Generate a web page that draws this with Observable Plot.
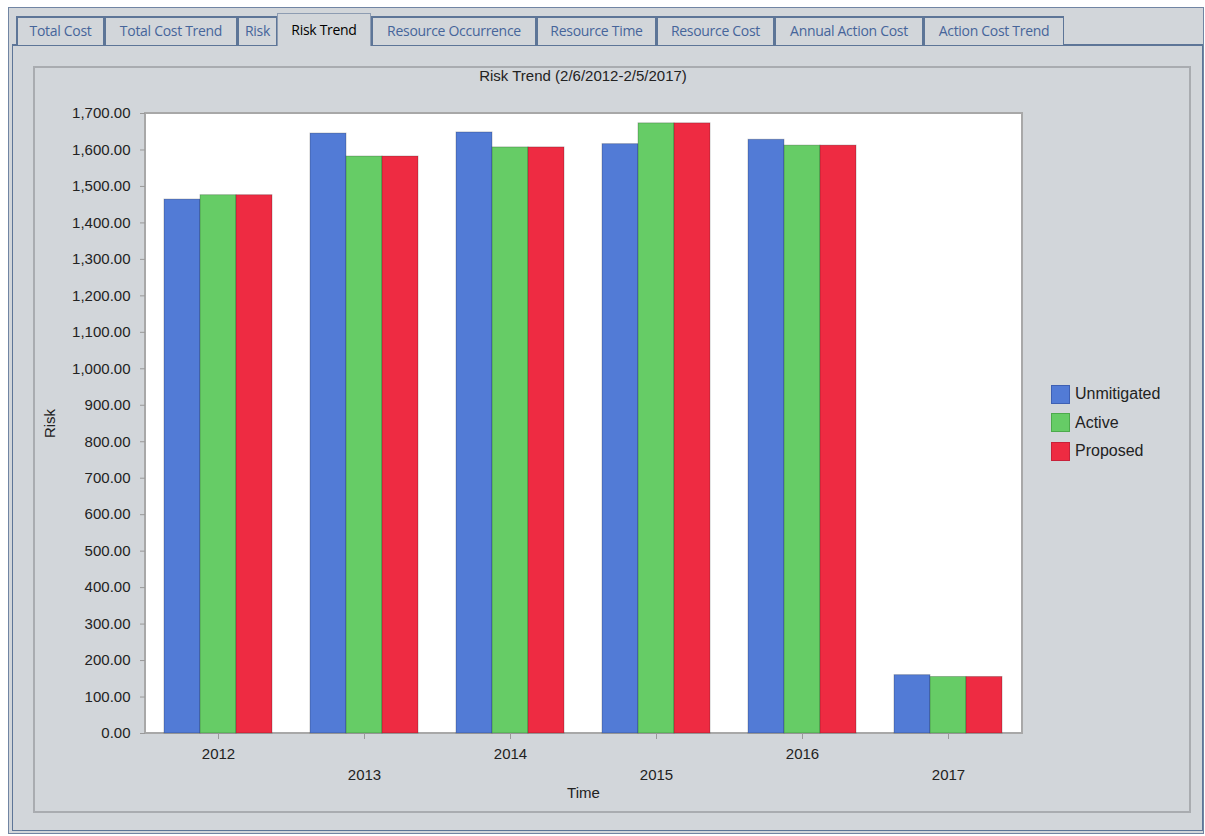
<!DOCTYPE html>
<html><head><meta charset="utf-8">
<script src="https://cdn.jsdelivr.net/npm/d3@7"></script>
<script src="https://cdn.jsdelivr.net/npm/@observablehq/plot@0.6"></script>
<style>
body{margin:0;width:1205px;height:836px;background:#fff;position:relative;overflow:hidden;font-family:"Liberation Sans",Arial,sans-serif;}
.abs{position:absolute;box-sizing:border-box;}
#outer{left:8px;top:7px;width:1196px;height:827px;background:#d2d6da;border:1px solid #7185a3;}
#content{left:12px;top:44px;width:1191px;height:787px;border:1px solid #5d7597;border-top:2px solid #5d7597;}
.tab{top:16px;height:29px;border:2px solid #5d7597;border-bottom:none;border-right-width:1px;color:#46659a;font-family:"Open Sans","Noto Sans",sans-serif;font-size:14px;line-height:26px;text-align:center;background:#d2d6da;white-space:nowrap;overflow:hidden;letter-spacing:-0.3px}
.tab.active{top:13px;height:33px;border:1px solid #8d9cb2;border-bottom:none;color:#000;line-height:32px;z-index:3}
#box{left:33px;top:66px;width:1158px;height:747px;border:2px solid #a9acb0;}
#area{left:144px;top:112px;width:879px;height:622px;background:#fff;border:2px solid #a8a8a8;}
#title{left:144px;top:67px;width:878px;text-align:center;font-size:15px;color:#222;}
#chart{left:33px;top:66px;}
#legend{left:1051px;top:380px;font-size:16px;color:#222;}
.row{display:flex;align-items:center;height:28.5px;}
.sw{width:19px;height:19px;box-sizing:border-box;border:1px solid;margin-right:5px;}
</style></head>
<body>
<div id="outer" class="abs"></div>
<div id="content" class="abs"></div>
<div id="tabs"></div>
<div id="box" class="abs"></div>
<div id="area" class="abs"></div>
<div id="title" class="abs"></div>
<div id="chart" class="abs"></div>
<div id="legend" class="abs"></div>
<script>
const tabLabels = ["Total Cost","Total Cost Trend","Risk","Risk Trend","Resource Occurrence","Resource Time","Resource Cost","Annual Action Cost","Action Cost Trend"];
const activeTab = "Risk Trend";
const chartTitle = "Risk Trend (2/6/2012-2/5/2017)";
const years = ["2012","2013","2014","2015","2016","2017"];
const series = ["Unmitigated","Active","Proposed"];
const unmitigated = [1464, 1645, 1648, 1616, 1628, 160];
const active = [1476, 1582, 1607, 1673, 1612, 155];
const proposed = [1476, 1582, 1607, 1673, 1612, 155];
const yTicks = [0,100,200,300,400,500,600,700,800,900,1000,1100,1200,1300,1400,1500,1600,1700];
const colors = ["#527bd6","#66cc66","#ee2b42"];
const edgeColors = ["#3e60b3","#4caa4c","#c8213a"];

// tabs (layout only)
const tabEdges = [16,104,237,277,371,536,656,774,923,1064];
const tabsDiv = document.getElementById("tabs");
tabLabels.forEach((t,i)=>{
  const d = document.createElement("div");
  d.className = "abs tab" + (t===activeTab ? " active" : "");
  d.style.left = tabEdges[i] + "px";
  d.style.width = (tabEdges[i+1]-tabEdges[i]) + "px";
  d.textContent = t;
  tabsDiv.appendChild(d);
});
document.getElementById("title").textContent = chartTitle;

const values = [unmitigated, active, proposed];
const data = years.flatMap((y,i)=>series.map((s,j)=>({year:y, series:s, value:values[j][i]})));

const plot = Plot.plot({
  width:1158, height:746,
  marginTop:47, marginBottom:79, marginLeft:111, marginRight:169,
  style:{fontFamily:"Liberation Sans, Arial, sans-serif", fontSize:"15px", color:"#222", background:"transparent", overflow:"visible"},
  fx:{domain:years, paddingInner:0, paddingOuter:0},
  x:{domain:series, paddingInner:0, paddingOuter:0.5, axis:null},
  y:{domain:[0,1700]},
  color:{domain:series, range:colors},
  marks:[
    Plot.barY(data,{fx:"year", x:"series", y:"value", fill:"series", stroke:"#000", strokeOpacity:0.22, inset:0}),
    Plot.axisY({ticks:yTicks, tickSize:5, tickPadding:10, tickFormat:d3.format(",.2f"), stroke:"#999", label:"Risk", labelAnchor:"center", labelOffset:101, labelArrow:"none"}),
    Plot.axisFx({anchor:"bottom", tickSize:6, tickPadding:5, lineHeight:1.4, stroke:"#999",
      tickFormat:(d)=> years.indexOf(d)%2 ? "\n"+d : d,
      label:"Time", labelAnchor:"center", labelOffset:64, labelArrow:"none"})
  ]
});
document.getElementById("chart").appendChild(plot);

const lg = document.getElementById("legend");
series.forEach((s,i)=>{
  const r = document.createElement("div"); r.className="row";
  const sw = document.createElement("div"); sw.className="sw";
  sw.style.background = colors[i]; sw.style.borderColor = edgeColors[i];
  const tx = document.createElement("span"); tx.textContent = s;
  r.appendChild(sw); r.appendChild(tx); lg.appendChild(r);
});
</script>
</body></html>
